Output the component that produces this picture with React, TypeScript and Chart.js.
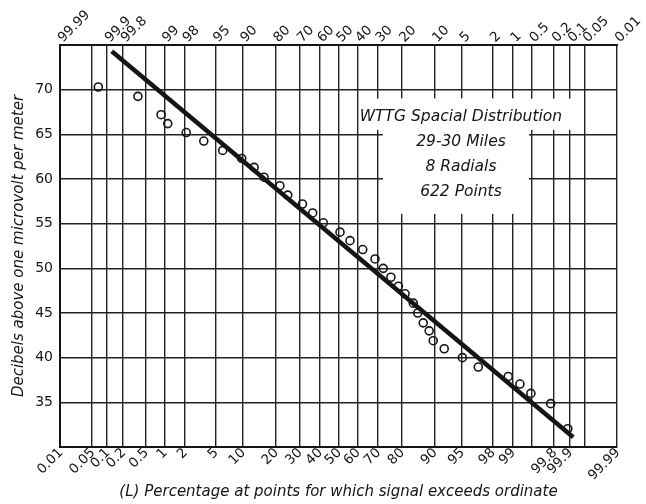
import React, { useEffect, useRef } from "react";
import { Chart, registerables } from "chart.js";

Chart.register(...registerables);

// ---- data ----
const gridPercents = [0.01, 0.05, 0.1, 0.2, 0.5, 1, 2, 5, 10, 20, 30, 40, 50, 60, 70, 80, 90, 95, 98, 99, 99.5, 99.8, 99.9, 99.95, 99.99];
const bottomLabels = ["0.01", "0.05", "0.1", "0.2", "0.5", "1", "2", "5", "10", "20", "30", "40", "50", "60", "70", "80", "90", "95", "98", "99", "", "99.8", "99.9", "", "99.99"];
const topLabels = ["99.99", "", "99.9", "99.8", "", "99", "98", "95", "90", "80", "70", "60", "50", "40", "30", "20", "10", "5", "2", "1", "0.5", "0.2", "0.1", "0.05", "0.01"];
const dbTickLabels = [35, 40, 45, 50, 55, 60, 65, 70];

const percentExceeded = [0.067, 0.37, 0.89, 1.13, 2.1, 3.6, 6.1, 9.8, 13.0, 16.0, 21.7, 24.9, 31.5, 36.5, 42.0, 50.8, 56.1, 62.7, 68.7, 72.5, 75.8, 78.8, 81.3, 84.1, 85.5, 87.1, 88.7, 89.7, 92.1, 95.1, 96.9, 98.83, 99.23, 99.49, 99.77, 99.89];
const fieldStrengthDb = [70.3, 69.25, 67.2, 66.2, 65.2, 64.25, 63.2, 62.3, 61.3, 60.2, 59.25, 58.2, 57.2, 56.2, 55.1, 54.05, 53.1, 52.1, 51.05, 50.0, 49.0, 48.0, 47.15, 46.1, 45.0, 43.9, 43.0, 41.9, 41.0, 40.0, 38.95, 37.9, 37.05, 36.0, 34.85, 32.05];

const fitPercent = [0.123, 99.914];
const fitDb = [74.3, 31.1];

const annotationLines = ["WTTG Spacial Distribution", "29-30 Miles", "8 Radials", "622 Points"];

const yTitle = "Decibels above one microvolt per meter";
const xTitle = "(L) Percentage at points for which signal exceeds ordinate";

// inverse normal CDF (Acklam)
function probit(p: number): number {
  const a = [-3.969683028665376e1, 2.209460984245205e2, -2.759285104469687e2, 1.38357751867269e2, -3.066479806614716e1, 2.506628277459239];
  const b = [-5.447609879822406e1, 1.615858368580409e2, -1.556989798598866e2, 6.680131188771972e1, -1.328068155288572e1];
  const c = [-7.784894002430293e-3, -3.223964580411365e-1, -2.400758277161838, -2.549732539343734, 4.374664141464968, 2.938163982698783];
  const d = [7.784695709041462e-3, 3.224671290700398e-1, 2.445134137142996, 3.754408661907416];
  const plow = 0.02425;
  const phigh = 1 - plow;
  if (p < plow) {
    const q = Math.sqrt(-2 * Math.log(p));
    return (((((c[0] * q + c[1]) * q + c[2]) * q + c[3]) * q + c[4]) * q + c[5]) / ((((d[0] * q + d[1]) * q + d[2]) * q + d[3]) * q + 1);
  } else if (p <= phigh) {
    const q = p - 0.5;
    const r = q * q;
    return ((((((a[0] * r + a[1]) * r + a[2]) * r + a[3]) * r + a[4]) * r + a[5]) * q) / (((((b[0] * r + b[1]) * r + b[2]) * r + b[3]) * r + b[4]) * r + 1);
  }
  const q = Math.sqrt(-2 * Math.log(1 - p));
  return -(((((c[0] * q + c[1]) * q + c[2]) * q + c[3]) * q + c[4]) * q + c[5]) / ((((d[0] * q + d[1]) * q + d[2]) * q + d[3]) * q + 1);
}
const zOf = (pct: number) => probit(pct / 100);

const INK = "#151515";
const FONT = '"DejaVu Sans", "Liberation Sans", sans-serif';

const textBoxPlugin = {
  id: "textBox",
  beforeDatasetsDraw(chart: any) {
    const { ctx } = chart;
    const xs = chart.scales.x;
    const ys = chart.scales.y;
    const px = (pct: number) => xs.getPixelForValue(zOf(pct));
    const py = (v: number) => ys.getPixelForValue(v);
    ctx.save();
    ctx.fillStyle = "#ffffff";
    // main white panel
    const l = px(72.3), r = px(99.45);
    ctx.fillRect(l, py(69.0), r - l, py(56.1) - py(69.0));
    // wider strip behind the first line
    const l2 = px(62), r2 = px(99.94);
    ctx.fillRect(l2, py(69.0), r2 - l2, py(65.5) - py(69.0));
    ctx.fillStyle = INK;
    ctx.font = `italic 15.5px ${FONT}`;
    ctx.textAlign = "center";
    ctx.textBaseline = "middle";
    const cx = px(94.9);
    const lineDb = [66.9, 64.1, 61.3, 58.6];
    annotationLines.forEach((t, i) => ctx.fillText(t, cx, py(lineDb[i])));
    ctx.restore();
  },
};

export default function App() {
  const ref = useRef<HTMLCanvasElement | null>(null);
  useEffect(() => {
    if (!ref.current) return;
    const zMin = zOf(gridPercents[0]);
    const zMax = zOf(gridPercents[gridPercents.length - 1]);
    const setTicks = (scale: any) => {
      scale.ticks = gridPercents.map((p) => ({ value: zOf(p) }));
    };
    const chart = new Chart(ref.current, {
      type: "scatter",
      data: {
        datasets: [
          {
            label: "fit",
            data: fitPercent.map((p, i) => ({ x: zOf(p), y: fitDb[i] })),
            showLine: true,
            borderColor: INK,
            borderWidth: 4.5,
            pointRadius: 0,
            borderCapStyle: "butt",
            order: 0,
          } as any,
          {
            label: "points",
            data: percentExceeded.map((p, i) => ({ x: zOf(p), y: fieldStrengthDb[i] })),
            pointRadius: 4,
            pointBorderWidth: 1.6,
            pointBorderColor: INK,
            pointBackgroundColor: "rgba(255,255,255,0)",
            showLine: false,
            order: 1,
          } as any,
        ],
      },
      options: {
        responsive: false,
        animation: false,
        devicePixelRatio: 1,
        layout: { padding: { left: 0, right: 29, top: 0, bottom: 0 } },
        plugins: { legend: { display: false }, tooltip: { enabled: false } },
        scales: {
          x: {
            type: "linear",
            position: "bottom",
            min: zMin,
            max: zMax,
            afterBuildTicks: setTicks,
            afterFit: (s: any) => {
              s.height = 57;
              s.paddingLeft = 0;
              s.paddingRight = 0;
            },
            grid: { color: "#222", lineWidth: 1.4, drawTicks: false },
            border: { display: true, color: INK, width: 2 },
            ticks: {
              autoSkip: false,
              minRotation: 45,
              maxRotation: 45,
              padding: -2,
              labelOffset: 1,
              color: INK,
              font: { family: FONT, size: 13.5 },
              callback: (_v: any, i: number) => bottomLabels[i],
            },
            title: {
              display: true,
              text: xTitle,
              color: INK,
              font: { family: FONT, size: 15, style: "italic" },
              padding: { top: 0, bottom: 3 },
            },
          },
          x2: {
            type: "linear",
            position: "top",
            min: zMin,
            max: zMax,
            afterBuildTicks: setTicks,
            afterFit: (s: any) => {
              s.height = 45;
              s.paddingLeft = 0;
              s.paddingRight = 0;
            },
            grid: { display: false, drawTicks: false },
            border: { display: true, color: INK, width: 2 },
            ticks: {
              autoSkip: false,
              minRotation: 45,
              maxRotation: 45,
              padding: -1,
              labelOffset: 12,
              color: INK,
              font: { family: FONT, size: 13.5 },
              callback: (_v: any, i: number) => topLabels[i],
            },
          },
          y: {
            type: "linear",
            position: "left",
            min: 30,
            max: 75,
            afterBuildTicks: (s: any) => {
              s.ticks = [30, ...dbTickLabels, 75].map((v) => ({ value: v }));
            },
            afterFit: (s: any) => {
              s.width = 60;
              s.paddingTop = 0;
              s.paddingBottom = 0;
            },
            grid: { color: "#222", lineWidth: 1.4, drawTicks: false },
            border: { display: true, color: INK, width: 2 },
            ticks: {
              padding: 7,
              color: INK,
              font: { family: FONT, size: 14 },
              callback: (v: any) => (dbTickLabels.includes(Number(v)) ? String(v) : ""),
            },
            title: {
              display: true,
              text: yTitle,
              color: INK,
              font: { family: FONT, size: 15, style: "italic" },
              padding: { top: 10, bottom: 0 },
            },
          },
        },
      },
      plugins: [textBoxPlugin],
    } as any);
    return () => chart.destroy();
  }, []);
  return (
    <div style={{ position: "fixed", left: 0, top: 0, width: 646, height: 504, background: "#fff" }}>
      <canvas ref={ref} width={646} height={504} />
    </div>
  );
}
